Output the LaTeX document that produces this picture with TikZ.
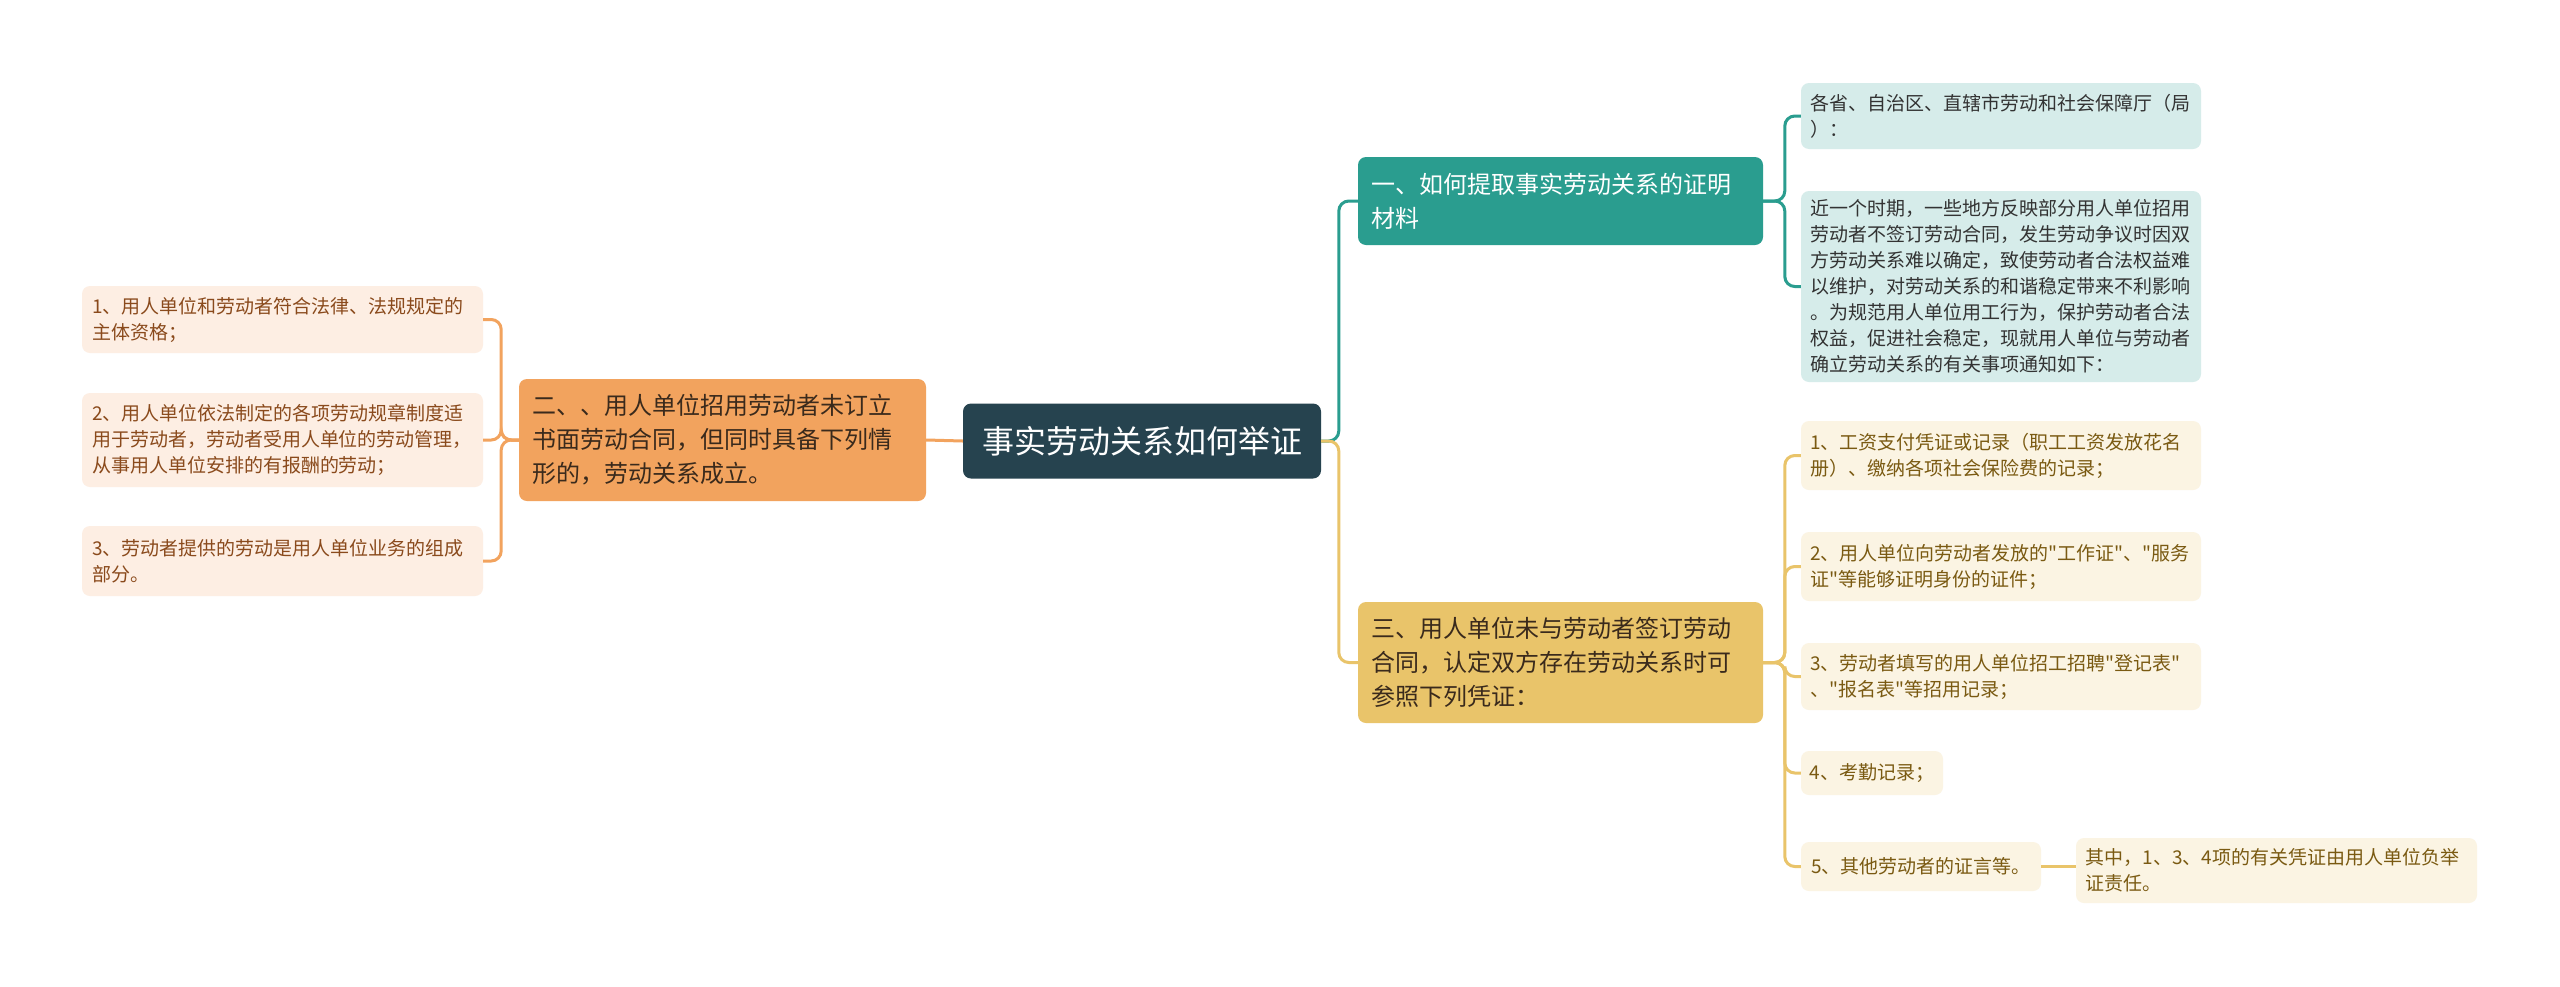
\documentclass[tikz,border=0pt]{standalone}
\usepackage{fontspec}
\setmainfont[Ligatures=TeXOff]{Noto Sans CJK SC}
\definecolor{rootc}{HTML}{26434F}
\definecolor{orangec}{HTML}{F2A35E}
\definecolor{tealc}{HTML}{2A9D8F}
\definecolor{goldc}{HTML}{E9C46A}
\definecolor{lfill}{HTML}{FDEEE3}
\definecolor{tfill}{HTML}{D6ECEA}
\definecolor{gfill}{HTML}{FBF4E3}
\definecolor{ltext}{HTML}{8A4A1C}
\definecolor{ttext}{HTML}{333333}
\definecolor{gtext}{HTML}{7A5A12}
\definecolor{otext}{HTML}{3A2A1C}
\begin{document}
\begin{tikzpicture}[x=1pt,y=-1pt,
  box/.style={rounded corners=8pt, align=left, inner ysep=0pt},
  leaf/.style={box, font=\fontsize{19}{26}\selectfont, inner xsep=10pt},
  mid/.style={box, font=\fontsize{24}{34}\selectfont, inner xsep=13pt},
  lleaf/.style={leaf, fill=lfill, text=ltext, minimum width=401pt, text width=381pt},
  tleaf/.style={leaf, fill=tfill, text=ttext, minimum width=400pt, text width=382pt, inner xsep=9pt},
  gleaf/.style={leaf, fill=gfill, text=gtext, minimum width=400pt, text width=382pt, inner xsep=9pt},
  gsmall/.style={leaf, fill=gfill, text=gtext, align=center, inner xsep=0pt},
  conn/.style={line width=3pt, rounded corners=10pt},
  ]
\useasboundingbox (0,0) rectangle (2560,986);
\fill[white] (0,0) rectangle (2560,986);

% root
\node[box, fill=rootc, text=white, font=\fontsize{32}{40}\selectfont, minimum width=358pt, minimum height=75pt, align=center] (root) at (1142,441) {事实劳动关系如何举证};

% left branch
\node[mid, fill=orangec, text=otext, minimum width=407pt, text width=381pt, minimum height=122pt] (two) at (722.5,440) {二、、用人单位招用劳动者未订立\\书面劳动合同，但同时具备下列情\\形的，劳动关系成立。};
\node[lleaf, minimum height=67pt] (L1) at (282.5,319.5) {1、用人单位和劳动者符合法律、法规规定的\\主体资格；};
\node[lleaf, minimum height=94pt] (L2) at (282.5,440) {2、用人单位依法制定的各项劳动规章制度适\\用于劳动者，劳动者受用人单位的劳动管理，\\从事用人单位安排的有报酬的劳动；};
\node[lleaf, minimum height=70pt] (L3) at (282.5,561) {3、劳动者提供的劳动是用人单位业务的组成\\部分。};

% right branches
\node[mid, fill=tealc, text=white, minimum width=405pt, text width=379pt, minimum height=88pt] (one) at (1560.5,201) {一、如何提取事实劳动关系的证明\\材料};
\node[mid, fill=goldc, text=otext, minimum width=405pt, text width=379pt, minimum height=121pt] (three) at (1560.5,662.5) {三、用人单位未与劳动者签订劳动\\合同，认定双方存在劳动关系时可\\参照下列凭证：};

\node[tleaf, minimum height=66pt] (t1) at (2001,116) {各省、自治区、直辖市劳动和社会保障厅（局\\）：};
\node[tleaf, minimum height=191pt] (t2) at (2001,286.5) {近一个时期，一些地方反映部分用人单位招用\\劳动者不签订劳动合同，发生劳动争议时因双\\方劳动关系难以确定，致使劳动者合法权益难\\以维护，对劳动关系的和谐稳定带来不利影响\\。为规范用人单位用工行为，保护劳动者合法\\权益，促进社会稳定，现就用人单位与劳动者\\确立劳动关系的有关事项通知如下：};

\node[gleaf, minimum height=69pt] (g1) at (2001,455.5) {1、工资支付凭证或记录（职工工资发放花名\\册）、缴纳各项社会保险费的记录；};
\node[gleaf, minimum height=69pt] (g2) at (2001,566.5) {2、用人单位向劳动者发放的"工作证"、"服务\\证"等能够证明身份的证件；};
\node[gleaf, minimum height=67pt] (g3) at (2001,676.5) {3、劳动者填写的用人单位招工招聘"登记表"\\、"报名表"等招用记录；};
\node[gsmall, minimum width=142pt, minimum height=44pt] (g4) at (1872,773) {4、考勤记录；};
\node[gsmall, minimum width=240pt, minimum height=49pt] (g5) at (1921,866.5) {5、其他劳动者的证言等。};
\node[gleaf, minimum width=401pt, minimum height=65pt] (g6) at (2276.5,870.5) {其中，1、3、4项的有关凭证由用人单位负举\\证责任。};

% connectors
\draw[conn, orangec] (root.west) -- (two.east);
\foreach \n in {L1,L2,L3}
  \draw[conn, orangec] (two.west) -| ([xshift=18pt]\n.east) -- (\n.east);

\draw[conn, tealc] (root.east) -| ([xshift=-19pt]one.west) -- (one.west);
\draw[conn, goldc] (root.east) -| ([xshift=-19pt]three.west) -- (three.west);

\foreach \n in {t1,t2}
  \draw[conn, tealc] (one.east) -| ([xshift=-16pt]\n.west) -- (\n.west);
\foreach \n in {g1,g2,g3,g4,g5}
  \draw[conn, goldc] (three.east) -| ([xshift=-16pt]\n.west) -- (\n.west);
\draw[conn, goldc] (g5.east) -- (g5.east -| g6.west);
\end{tikzpicture}
\end{document}
